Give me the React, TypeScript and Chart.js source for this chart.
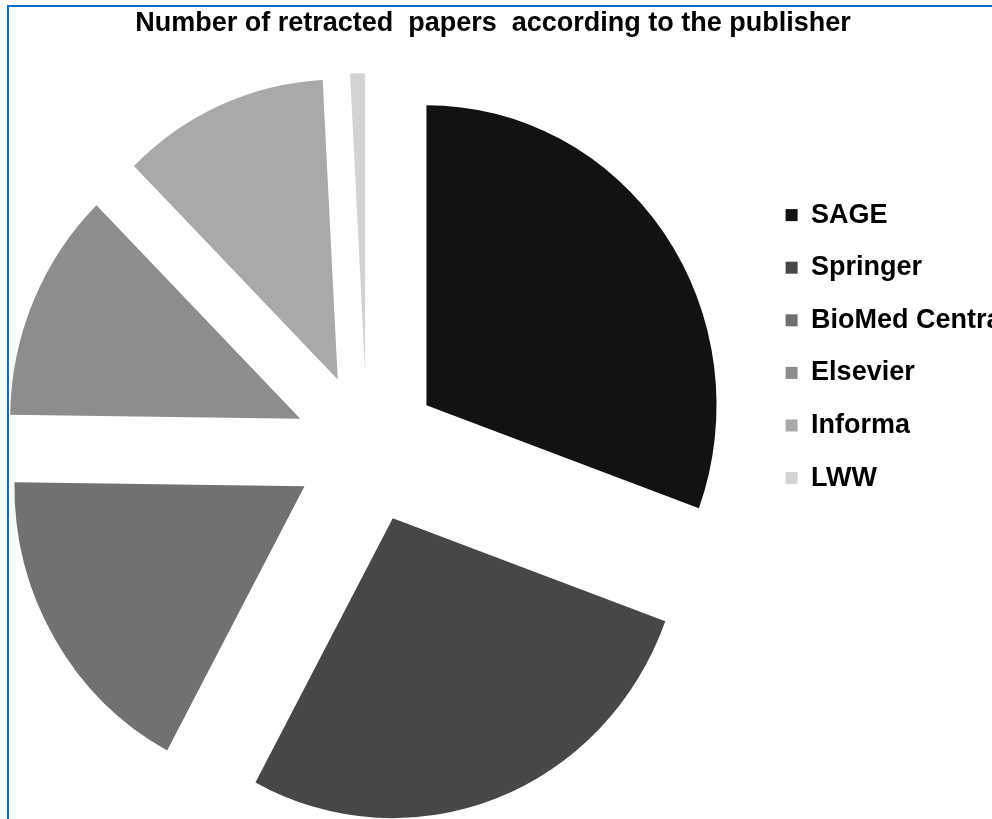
import React, { useEffect, useRef } from "react";
import { Chart, registerables } from "chart.js";

Chart.register(...registerables);

const chartTitle = "Number of retracted  papers  according to the publisher";
const publishers = ["SAGE", "Springer", "BioMed Central", "Elsevier", "Informa", "LWW"];
const retractedCounts = [37, 33, 21, 15, 14, 1];
const sliceColors = ["#121212", "#474747", "#717171", "#8d8d8d", "#a9a9a9", "#d3d3d3"];

const EXPLODE = 75;
const X_SQUASH = 0.967;

const explodePlugin = {
  id: "explodeSlices",
  beforeDatasetDraw(chart: any, args: any) {
    const ctx = chart.ctx;
    args.meta.data.forEach((arc: any) => {
      const mid = (arc.startAngle + arc.endAngle) / 2;
      ctx.save();
      ctx.translate(arc.x, arc.y);
      ctx.scale(X_SQUASH, 1);
      ctx.translate(-arc.x, -arc.y);
      ctx.translate(Math.cos(mid) * EXPLODE, Math.sin(mid) * EXPLODE);
      arc.draw(ctx);
      ctx.restore();
    });
    return false;
  },
};

export default function App() {
  const canvasRef = useRef<HTMLCanvasElement | null>(null);

  useEffect(() => {
    document.body.style.margin = "0";
    const canvas = canvasRef.current;
    if (!canvas) return;
    const font = "'Liberation Sans', Arial, sans-serif";
    const chart = new Chart(canvas, {
      type: "pie",
      data: {
        labels: publishers,
        datasets: [
          {
            data: retractedCounts,
            backgroundColor: sliceColors,
            borderColor: sliceColors,
            borderWidth: 0,
            radius: 300,
          } as any,
        ],
      },
      options: {
        responsive: false,
        animation: false,
        layout: { padding: 0 },
        plugins: {
          title: {
            display: true,
            text: chartTitle,
            color: "#000",
            font: { family: font, size: 27, weight: "bold", lineHeight: 1.2 },
            padding: { top: 7, bottom: 37.8 },
          },
          legend: {
            display: true,
            position: "right",
            align: "start",
            maxWidth: 252,
            title: {
              display: true,
              text: " ",
              font: { size: 12, lineHeight: 1 },
              padding: 82,
            },
            labels: {
              color: "#000",
              boxWidth: 12,
              boxHeight: 12,
              padding: 25.6,
              font: { family: font, size: 27, weight: "bold" },
            },
          },
          tooltip: { enabled: false },
        },
      } as any,
      plugins: [explodePlugin],
    });
    return () => chart.destroy();
  }, []);

  return (
    <div style={{ position: "relative", width: 992, height: 819, overflow: "hidden", background: "#fff" }}>
      <canvas
        ref={canvasRef}
        width={1038}
        height={819}
        style={{ position: "absolute", left: -26, top: 0, width: 1038, height: 819 }}
      />
      <div
        style={{
          position: "absolute",
          left: 7,
          top: 5,
          width: 2000,
          height: 2000,
          borderLeft: "2px solid #0b6fc5",
          borderTop: "2px solid #0b6fc5",
          pointerEvents: "none",
        }}
      />
    </div>
  );
}
